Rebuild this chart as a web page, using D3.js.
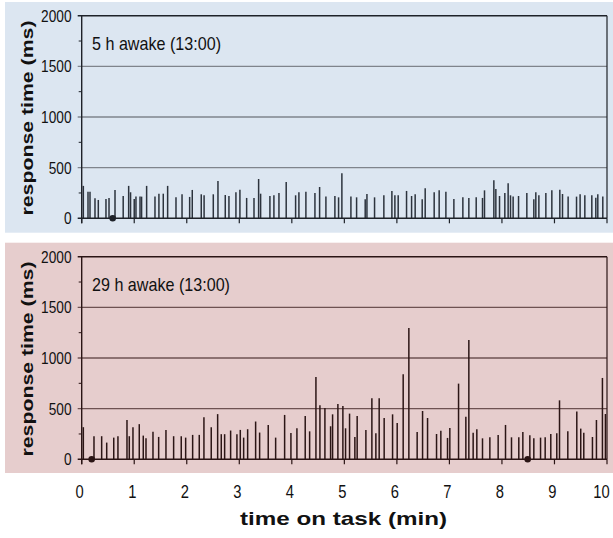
<!DOCTYPE html>
<html>
<head>
<meta charset="utf-8">
<script src="https://cdn.jsdelivr.net/npm/d3@7"></script>
<style>
  html, body { margin: 0; padding: 0; background: #ffffff; }
  svg { display: block; }
</style>
</head>
<body>
<script>
// Response times (ms) at each trial onset (minutes into the task)
const restedTimes = [0.031,0.12,0.158,0.253,0.316,0.462,0.52,0.634,0.79,0.894,0.93,1.0,1.033,1.11,1.14,1.236,1.395,1.47,1.553,1.636,1.795,1.91,2.055,2.105,2.276,2.33,2.505,2.594,2.733,2.803,2.936,3.012,3.14,3.28,3.368,3.406,3.583,3.659,3.755,3.893,4.072,4.135,4.268,4.44,4.529,4.649,4.82,4.89,4.953,5.125,5.233,5.397,5.43,5.575,5.752,5.905,5.962,6.025,6.184,6.28,6.348,6.482,6.539,6.71,6.805,6.933,7.085,7.256,7.37,7.51,7.63,7.668,7.846,7.884,7.954,8.055,8.118,8.163,8.213,8.316,8.474,8.607,8.645,8.703,8.836,8.95,9.102,9.153,9.26,9.42,9.488,9.578,9.711,9.787,9.825,9.92];
const restedRT = [320,263,263,198,181,191,201,280,221,320,257,191,214,214,214,320,214,243,243,320,208,237,211,280,237,227,237,368,230,220,257,283,201,201,388,243,220,227,250,359,227,257,263,250,309,214,220,207,444,214,207,188,240,207,227,270,227,227,270,220,237,188,296,257,276,263,191,207,201,207,201,276,375,289,220,250,345,227,214,220,250,188,257,227,250,276,283,240,214,214,237,227,227,204,237,214];
const restedLapses = [0.59];

const deprivedTimes = [0.031,0.234,0.38,0.476,0.61,0.69,0.862,0.906,0.976,1.096,1.172,1.224,1.357,1.465,1.604,1.75,1.895,1.979,2.112,2.238,2.327,2.466,2.588,2.657,2.721,2.835,2.955,3.019,3.083,3.159,3.311,3.387,3.551,3.692,3.863,3.983,4.097,4.255,4.339,4.459,4.535,4.63,4.738,4.776,4.877,4.972,5.023,5.099,5.2,5.244,5.41,5.524,5.6,5.663,5.758,5.918,6.006,6.12,6.228,6.386,6.489,6.584,6.755,6.837,6.964,7.008,7.174,7.313,7.37,7.452,7.522,7.63,7.77,7.928,8.068,8.182,8.321,8.398,8.531,8.607,8.735,8.823,8.93,9.044,9.096,9.254,9.425,9.5,9.558,9.723,9.799,9.913,9.97];
const deprivedRT = [317,228,228,165,214,228,389,228,317,347,234,208,271,221,290,228,228,214,241,241,416,317,446,248,248,284,248,290,214,297,373,264,339,214,438,260,306,428,276,813,533,507,326,444,546,526,306,451,220,428,290,602,257,602,408,444,359,839,1296,270,477,408,250,283,211,309,747,421,1178,263,296,207,217,240,339,217,217,270,237,207,214,217,250,257,582,276,471,303,263,220,388,803,447];
const deprivedLapses = [0.19, 8.49];

const xTicks = [0,1,2,3,4,5,6,7,8,9,10];
const yTicks = [0,500,1000,1500,2000];
const yMinorTicks = [250,750,1250,1750];

const W = 613, H = 538;
const svg = d3.select("body").append("svg").attr("width", W).attr("height", H);

const x = d3.scaleLinear().domain([0, 10]).range([81.7, 607]);

const sans = "'Liberation Sans', Arial, Helvetica, sans-serif";

const panels = [
  { title: "5 h awake (13:00)", titleLen: 129, times: restedTimes, rt: restedRT, lapses: restedLapses,
    bgTop: 2, bgBottom: 232.7, y0: 218.3, y1: 15.7,
    bg: "#dce6f1", ink: "#2c333d", grid: "#7f848c", frame: "#1e2229" },
  { title: "29 h awake (13:00)", titleLen: 138, times: deprivedTimes, rt: deprivedRT, lapses: deprivedLapses,
    bgTop: 242.7, bgBottom: 473, y0: 459.3, y1: 256.7,
    bg: "#e6cdcd", ink: "#2b1515", grid: "#6e5252", frame: "#2a1414" }
];

panels.forEach((p, i) => {
  const g = svg.append("g");
  const y = d3.scaleLinear().domain([0, 2000]).range([p.y0, p.y1]);

  g.append("rect")
    .attr("x", 5).attr("y", p.bgTop)
    .attr("width", W - 5).attr("height", p.bgBottom - p.bgTop)
    .attr("fill", p.bg);

  // horizontal gridlines, extended a little left as major ticks
  g.selectAll("line.grid").data(yTicks.filter(v => v > 0 && v < 2000)).join("line")
    .attr("class", "grid")
    .attr("x1", x(0) - 4).attr("x2", x(10))
    .attr("y1", d => y(d)).attr("y2", d => y(d))
    .attr("stroke", p.grid).attr("stroke-width", 1.3);

  // top frame line at 2000 and right frame edge
  g.append("line")
    .attr("x1", x(0) - 4).attr("x2", x(10))
    .attr("y1", y(2000)).attr("y2", y(2000))
    .attr("stroke", p.frame).attr("stroke-width", 1.4);
  g.append("line")
    .attr("x1", x(10)).attr("x2", x(10))
    .attr("y1", y(2000)).attr("y2", y(0))
    .attr("stroke", p.frame).attr("stroke-width", 1.2);

  // minor y ticks
  g.selectAll("line.minor").data(yMinorTicks).join("line")
    .attr("class", "minor")
    .attr("x1", x(0) - 3).attr("x2", x(0))
    .attr("y1", d => y(d)).attr("y2", d => y(d))
    .attr("stroke", p.frame).attr("stroke-width", 1);

  // response time spikes
  g.selectAll("line.rt").data(p.rt).join("line")
    .attr("class", "rt")
    .attr("x1", (d, k) => x(p.times[k])).attr("x2", (d, k) => x(p.times[k]))
    .attr("y1", y(0)).attr("y2", d => y(d))
    .attr("stroke", p.ink).attr("stroke-width", 1.5);

  // axes lines
  g.append("line")
    .attr("x1", x(0)).attr("x2", x(0))
    .attr("y1", y(2000)).attr("y2", y(0) + 5)
    .attr("stroke", p.frame).attr("stroke-width", 1.4);
  g.append("line")
    .attr("x1", x(0) - 4).attr("x2", x(10))
    .attr("y1", y(0)).attr("y2", y(0))
    .attr("stroke", p.frame).attr("stroke-width", 1.4);

  // x ticks below the axis
  g.selectAll("line.xt").data(xTicks).join("line")
    .attr("class", "xt")
    .attr("x1", d => x(d)).attr("x2", d => x(d))
    .attr("y1", y(0)).attr("y2", y(0) + 5)
    .attr("stroke", p.frame).attr("stroke-width", 1.2);

  // lapse markers on the baseline
  g.selectAll("circle.lapse").data(p.lapses).join("circle")
    .attr("class", "lapse")
    .attr("cx", d => x(d)).attr("cy", y(0))
    .attr("r", 3.3).attr("fill", p.frame);

  // y tick labels (condensed)
  g.selectAll("text.yl").data(yTicks).join("text")
    .attr("class", "yl")
    .attr("x", 71.5).attr("y", d => y(d))
    .attr("dy", "0.36em")
    .attr("text-anchor", "end")
    .attr("font-family", sans).attr("font-size", 17)
    .attr("textLength", d => String(d).length * 7.6)
    .attr("lengthAdjust", "spacingAndGlyphs")
    .attr("fill", "#111")
    .text(d => d);

  // panel title
  g.append("text")
    .attr("x", 92).attr("y", y(2000) + 34.5)
    .attr("font-family", sans).attr("font-size", 18.5)
    .attr("textLength", p.titleLen).attr("lengthAdjust", "spacingAndGlyphs")
    .attr("fill", "#111")
    .text(p.title);

  // y axis title
  const cy = (y(2000) + y(0)) / 2 + 1;
  g.append("text")
    .attr("transform", `translate(32.5,${cy}) rotate(-90)`)
    .attr("text-anchor", "middle")
    .attr("font-family", sans).attr("font-weight", "bold").attr("font-size", 17)
    .attr("textLength", 195).attr("lengthAdjust", "spacingAndGlyphs")
    .attr("fill", "#111")
    .text("response time (ms)");

  if (i === 1) {
    // x tick labels (condensed); the last one is pulled in from the edge
    g.selectAll("text.xl").data(xTicks).join("text")
      .attr("class", "xl")
      .attr("x", d => d === 10 ? 601.5 : x(d) - 2)
      .attr("y", 498)
      .attr("text-anchor", "middle")
      .attr("font-family", sans).attr("font-size", 18)
      .attr("textLength", d => String(d).length * 8.2)
      .attr("lengthAdjust", "spacingAndGlyphs")
      .attr("fill", "#111")
      .text(d => d);
  }
});

// x axis title
svg.append("text")
  .attr("x", 343.5).attr("y", 525)
  .attr("text-anchor", "middle")
  .attr("font-family", sans).attr("font-weight", "bold").attr("font-size", 19)
  .attr("textLength", 207).attr("lengthAdjust", "spacingAndGlyphs")
  .attr("fill", "#111")
  .text("time on task (min)");
</script>
</body>
</html>
